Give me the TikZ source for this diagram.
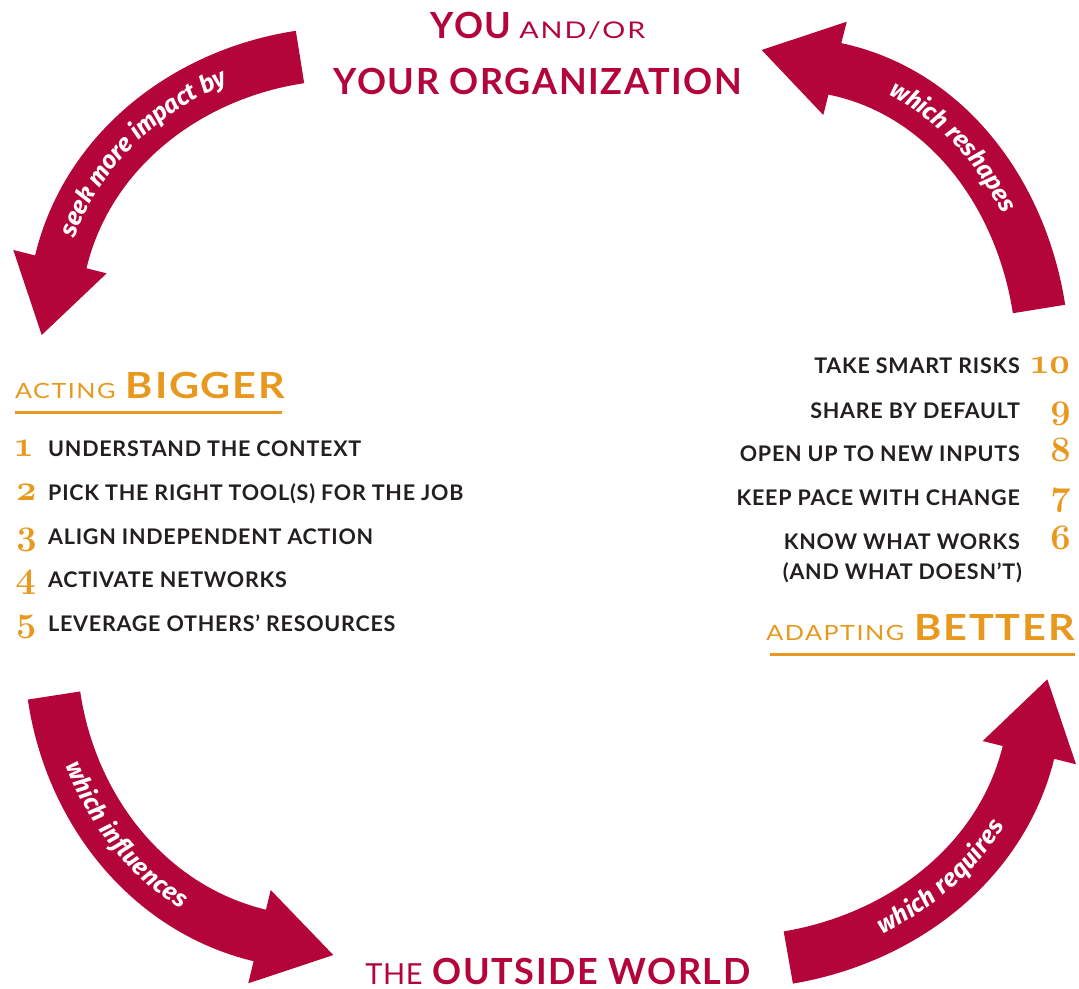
\documentclass[tikz,border=0pt]{standalone}
\usepackage{fontspec}
\setmainfont{Lato}
\newfontfamily\tfont{Lato}[LetterSpace=4.5]
\newfontfamily\tsmallfont{Lato}[FakeStretch=1.25,LetterSpace=8]
\newfontfamily\theFont{Lato}[LetterSpace=2]
\newfontfamily\ifont{Lato}[LetterSpace=3.5]
\newfontfamily\hdsmall{Lato}[FakeStretch=1.2,LetterSpace=7]
\newfontfamily\hdbig{Lato}[FakeStretch=1.15,LetterSpace=5]
\newfontfamily\lblfont{Fira Sans}[LetterSpace=2]
\newfontfamily\numfont[Numbers=OldStyle]{Latin Modern Roman}
\usetikzlibrary{decorations.text}
\definecolor{arrred}{HTML}{B4053A}
\definecolor{accent}{HTML}{E8981D}
\definecolor{ink}{HTML}{231F20}
\begin{document}
\begin{tikzpicture}[x=1pt,y=-1pt,
  shaft/.style={draw=arrred,line width=53pt},
  head/.style={fill=arrred},
  arrowlabel/.style 2 args={decorate,decoration={text along path,text color=white,raise=-6.5pt,
     text align={left indent=#2},
     text={|\lblfont\bfseries\itshape\fontsize{24.5}{24.5}\selectfont|#1}}},
  title/.style={text=arrred,inner sep=0pt,font=\tfont\fontsize{36}{36}\selectfont},
  head1/.style={text=accent,inner sep=0pt,font=\hdbig\fontsize{36}{36}\selectfont},
  item/.style={text=ink,inner sep=0pt,font=\ifont\bfseries\fontsize{21.5}{21.5}\selectfont},
  num/.style={text=accent,inner sep=0pt,font=\numfont\bfseries\fontsize{36}{36}\selectfont},
  rule/.style={draw=accent,line width=3pt}
]
\useasboundingbox (0,0) rectangle (1079,988);

% ---------- titles ----------
\node[title,anchor=base] (you) at (538,38)
  {{\bfseries YOU}\hspace{-3pt} {\tsmallfont\fontsize{23}{23}\selectfont AND/OR}};
\node[title,anchor=base] (org) at (538,94) {\bfseries YOUR ORGANIZATION};
\node[title,anchor=base] (world) at (558,984)
  {{\theFont\fontsize{29}{29}\selectfont THE}\hspace{-1pt} {\bfseries OUTSIDE WORLD}};

% ---------- acting bigger ----------
\node[head1,anchor=base west] (acting) at (15,398)
  {{\hdsmall\fontsize{21}{21}\selectfont ACTING}\hspace{-2pt} {\bfseries BIGGER}};
\draw[rule] (15,412.5) coordinate (r1a) -- (282,412.5) coordinate (r1b);

\node[num,anchor=base west] (n1) at (15,456) {1};
\node[item,anchor=base west] (t1) at (48,456) {UNDERSTAND THE CONTEXT};
\node[num,anchor=base west] (n2) at (15,500) {2};
\node[item,anchor=base west] (t2) at (48,500) {PICK THE RIGHT TOOL(S) FOR THE JOB};
\node[num,anchor=base west] (n3) at (15,544) {3};
\node[item,anchor=base west] (t3) at (48,544) {ALIGN INDEPENDENT ACTION};
\node[num,anchor=base west] (n4) at (15,587) {4};
\node[item,anchor=base west] (t4) at (48,587) {ACTIVATE NETWORKS};
\node[num,anchor=base west] (n5) at (15,631) {5};
\node[item,anchor=base west] (t5) at (48,631) {LEVERAGE OTHERS’ RESOURCES};

% ---------- adapting better ----------
\node[item,anchor=base east] (t10) at (1020,373) {TAKE SMART RISKS};
\node[num,anchor=base east] (n10) at (1072,373) {10};
\node[item,anchor=base east] (t9) at (1020,418) {SHARE BY DEFAULT};
\node[num,anchor=base east] (n9) at (1072,418) {9};
\node[item,anchor=base east] (t8) at (1020,461) {OPEN UP TO NEW INPUTS};
\node[num,anchor=base east] (n8) at (1072,461) {8};
\node[item,anchor=base east] (t7) at (1020,505.5) {KEEP PACE WITH CHANGE};
\node[num,anchor=base east] (n7) at (1072,505.5) {7};
\node[item,anchor=base east] (t6) at (1020,549) {KNOW WHAT WORKS};
\node[num,anchor=base east] (n6) at (1072,549) {6};
\node[item,anchor=base east] (t6b) at (1022,579) {(AND WHAT DOESN’T)};
\node[head1,anchor=base east] (adapting) at (1075,640)
  {{\hdsmall\fontsize{21}{21}\selectfont ADAPTING}\hspace{-2pt} {\bfseries BETTER}};
\draw[rule] (770,654) coordinate (r2a) -- (1075,654) coordinate (r2b);

% ---------- arrow 1: you -> acting ----------
\coordinate (a1s) at (300,57);
\coordinate (a1e) at (61,261);
\draw[shaft] (a1s) .. controls (187,74) and (88,150) .. (a1e) -- ++(-0.7,2.9);
\fill[head] (13.3,250) -- (41.7,335) coordinate (a1tip) -- (106.7,273.3) -- cycle;
\path[arrowlabel={seek more impact by}{26pt}] (a1e) .. controls (88,150) and (187,74) .. (a1s);

% ---------- arrow 2: adapting -> you ----------
\coordinate (a2s) at (1039,309);
\coordinate (a2e) at (835.5,69);
\draw[shaft] (a2s) .. controls (1021.5,195.4) and (948,92.8) .. (a2e) -- ++(-2.9,-0.6);
\fill[head] (846.7,21.7) -- (761.7,50) coordinate (a2tip) -- (823.3,115) -- cycle;
\path[arrowlabel={which reshapes}{60pt}] (a2e) .. controls (948,92.8) and (1021.5,195.4) .. (a2s);

% ---------- arrow 3: acting -> world ----------
\coordinate (a3s) at (54,695.5);
\coordinate (a3e) at (260,935.5);
\draw[shaft] (a3s) .. controls (70.7,809.5) and (148,908.6) .. (a3e) -- ++(2.9,0.7);
\fill[head] (270.7,890) -- (333.3,955) coordinate (a3tip) -- (248.3,983.3) -- cycle;
\path[arrowlabel={which influences}{70pt}] (a3s) .. controls (70.7,809.5) and (148,908.6) .. (a3e);

% ---------- arrow 4: world -> adapting ----------
\coordinate (a4s) at (788.3,957.5);
\coordinate (a4e) at (1028.3,753);
\draw[shaft] (a4s) .. controls (901.1,938.5) and (1000.6,864) .. (a4e) -- ++(0.7,-2.9);
\fill[head] (982.7,741) -- (1047.3,679.3) coordinate (a4tip) -- (1076,764.3) -- cycle;
\path[arrowlabel={which requires}{96pt}] (a4s) .. controls (901.1,938.5) and (1000.6,864) .. (a4e);
\end{tikzpicture}
\end{document}
